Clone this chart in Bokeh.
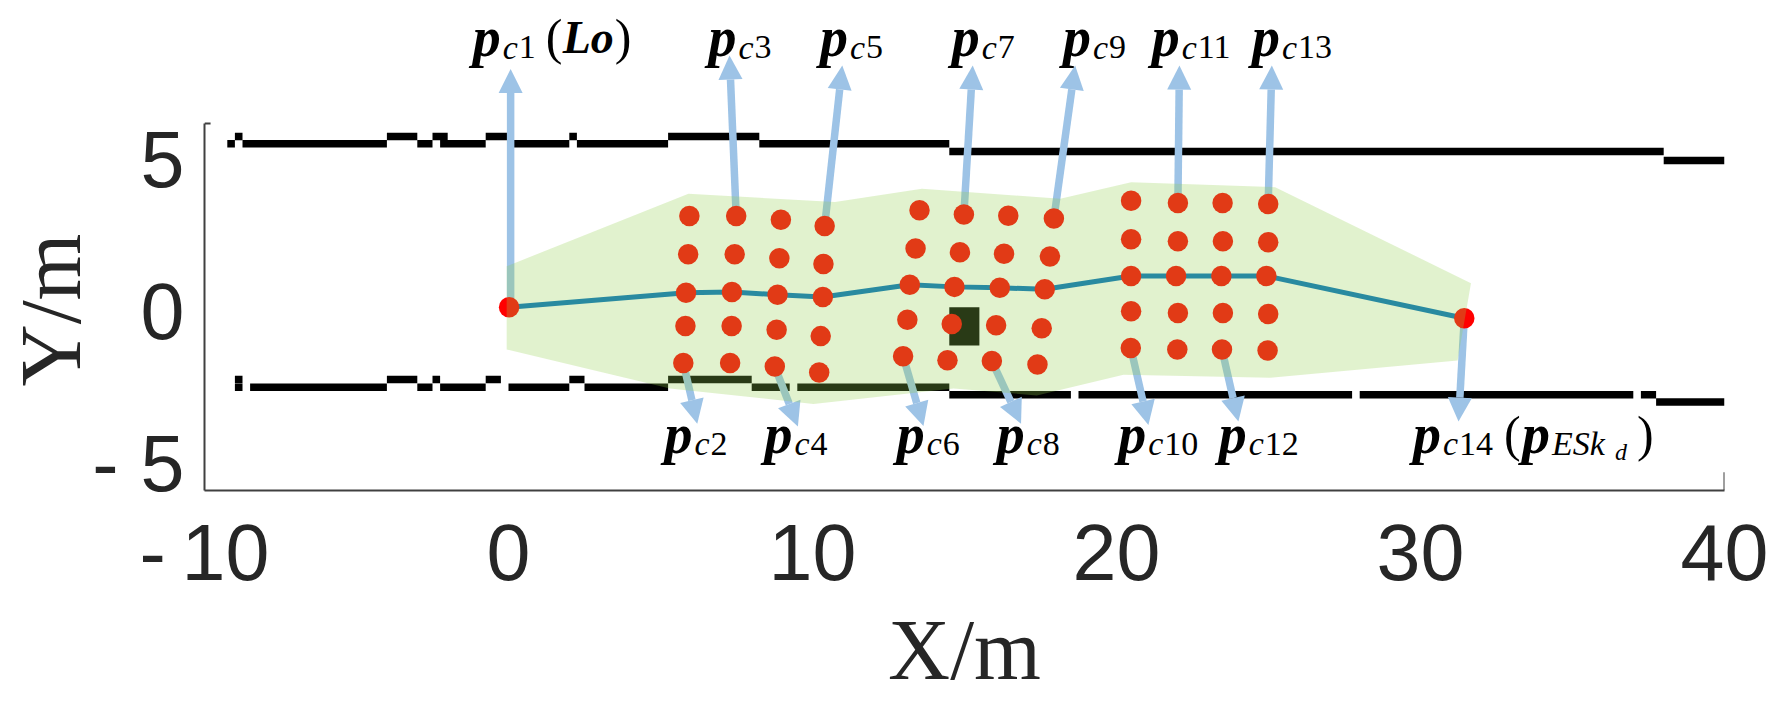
from bokeh.embed import file_html
from bokeh.models import Arrow, Label, NormalHead
from bokeh.plotting import figure
from bokeh.resources import INLINE

# road edges, one row per drawn piece
upper_x0 = [-9.25, -9, -8.75, -4, -3, -2.5, -2.25, -0.75, 0, 2, 2.25, 5.25, 8.25, 14.5, 38]
upper_x1 = [-9, -8.75, -4, -3, -2.5, -2, -0.75, 0, 2, 2.25, 5.25, 8.25, 14.5, 38, 40]
upper_y = [5.52, 5.76, 5.52, 5.76, 5.52, 5.76, 5.52, 5.76, 5.52, 5.76, 5.52, 5.76, 5.52, 5.26, 4.97]

lower_x0 = [-9, -9, -8.5, -4, -3, -2.5, -2.25, -0.75, 0, 2, 2.5, 5.25, 8, 9.5, 14.5, 18.75, 28, 37.25, 37.75]
lower_x1 = [-8.75, -8.75, -4, -3, -2.5, -2.25, -0.75, -0.25, 2, 2.5, 5.25, 8, 9.25, 14.5, 18.5, 27.75, 37, 37.75, 40]
lower_y = [-2.24, -2.49, -2.49, -2.24, -2.49, -2.24, -2.49, -2.24, -2.49, -2.24, -2.49, -2.24, -2.49, -2.49,
           -2.74, -2.74, -2.74, -2.74, -2.98]

# obstacle
obstacle_x = [14.5, 15.49]
obstacle_y = [-1.12, 0.14]

# feasible region
region_x = [-0.06, 5.92, 10.74, 13.6, 18.15, 20.48, 25.22, 31.66, 31.22, 25.06, 20.23, 17.38, 14.64, 10.03, 5.31, -0.06]
region_y = [1.49, 3.87, 3.6, 4.04, 3.71, 4.25, 4.09, 0.93, -1.61, -2.18, -2.08, -2.76, -2.53, -3.04, -2.53, -1.25]

# reference path
path_x = [0.02, 5.84, 7.35, 8.85, 10.34, 13.2, 14.67, 16.16, 17.64, 20.48, 21.96, 23.45, 24.93, 31.44]
path_y = [0.14, 0.62, 0.64, 0.55, 0.48, 0.88, 0.81, 0.78, 0.73, 1.17, 1.17, 1.17, 1.17, -0.22]

# sample points, five per column
dots_x = [
    5.95, 5.91, 5.84, 5.82, 5.75,
    7.49, 7.44, 7.35, 7.34, 7.29,
    8.96, 8.91, 8.85, 8.82, 8.76,
    10.40, 10.36, 10.34, 10.27, 10.22,
    13.52, 13.39, 13.20, 13.12, 12.98,
    14.98, 14.85, 14.67, 14.58, 14.44,
    16.44, 16.30, 16.16, 16.04, 15.90,
    17.94, 17.81, 17.64, 17.54, 17.40,
    20.48, 20.48, 20.48, 20.48, 20.47,
    22.02, 22.02, 21.96, 22.02, 22.00,
    23.49, 23.50, 23.45, 23.50, 23.47,
    24.99, 24.99, 24.93, 24.99, 24.97,
    0.02, 31.44,
]
dots_y = [
    3.14, 1.88, 0.62, -0.48, -1.69,
    3.14, 1.88, 0.64, -0.48, -1.69,
    3.02, 1.75, 0.55, -0.60, -1.81,
    2.81, 1.56, 0.48, -0.81, -2.01,
    3.33, 2.07, 0.88, -0.27, -1.47,
    3.19, 1.95, 0.81, -0.41, -1.60,
    3.15, 1.90, 0.78, -0.45, -1.63,
    3.06, 1.81, 0.73, -0.55, -1.74,
    3.64, 2.38, 1.17, 0.01, -1.20,
    3.57, 2.31, 1.17, -0.05, -1.25,
    3.57, 2.31, 1.17, -0.05, -1.25,
    3.54, 2.28, 1.17, -0.08, -1.28,
    0.14, -0.22,
]

# callout arrows, index 0 is p_c1
arrow_x0 = [0.07, 5.75, 7.49, 8.76, 10.40, 12.98, 14.98, 15.90, 17.94, 20.47, 22.02, 23.47, 24.99, 31.44]
arrow_y0 = [0.2, -1.69, 3.14, -1.81, 2.81, -1.47, 3.19, -1.63, 3.06, -1.20, 3.57, -1.25, 3.54, -0.22]
arrow_x1 = [0.07, 6.21, 7.27, 9.52, 10.98, 13.65, 15.27, 16.86, 18.64, 21.05, 22.07, 24.01, 25.11, 31.25]
arrow_y1 = [7.98, -3.69, 8.42, -3.78, 8.09, -3.77, 8.09, -3.69, 8.09, -3.73, 8.09, -3.62, 8.09, -3.62]

# callout names and where each one starts
tag_nums = ["1", "2", "3", "4", "5", "6", "7", "8", "9", "10", "11", "12", "13", "14"]
tag_x = [-1.18, 5.13, 6.58, 8.42, 10.25, 12.77, 14.58, 16.06, 18.24, 20.06, 21.16, 23.36, 24.46, 29.75]
tag_y = [9.02, -4.02, 9.02, -4.02, 9.02, -4.02, 9.02, -4.02, 9.02, -4.02, 9.02, -4.02, 9.02, -4.02]

x_ticks = [-10, 0, 10, 20, 30, 40]
y_ticks = [-5, 0, 5]

SERIF = "Liberation Serif"
BLUE = "#9DC3E6"
TEXT = "#262626"
AXIS = "#404040"
X_MIN, X_MAX = -10, 40
Y_MIN, Y_MAX = -5.888, 6.184
# the frame runs up to the top of the page so the upper callouts are not cut off
Y_TOP = 10.23

p = figure(width=1769, height=705, x_range=(X_MIN, X_MAX), y_range=(Y_MIN, Y_TOP),
           output_backend="svg", toolbar_location=None,
           min_border_left=204, min_border_right=45, min_border_top=0, min_border_bottom=215)
p.grid.visible = False
p.outline_line_color = None

p.xaxis.ticker = x_ticks
p.yaxis.ticker = y_ticks
p.yaxis.bounds = (Y_MIN, Y_MAX)
p.xaxis.major_label_overrides = {-10: "-\u200910"}
p.yaxis.major_label_overrides = {-5: "- 5"}
for ax in (p.xaxis[0], p.yaxis[0]):
    ax.axis_line_color = AXIS
    ax.axis_line_width = 2
    ax.major_tick_line_color = None
    ax.minor_tick_line_color = None
    ax.major_tick_in = 0
    ax.major_tick_out = 0
    ax.minor_tick_in = 0
    ax.minor_tick_out = 0
    ax.major_label_text_font = "Liberation Sans"
    ax.major_label_text_font_size = "79px"
    ax.major_label_text_color = TEXT
    ax.axis_label_text_font = SERIF
    ax.axis_label_text_font_style = "normal"
    ax.axis_label_text_font_size = "86px"
    ax.axis_label_text_color = TEXT
p.xaxis.axis_label = "X/m"
# trailing spaces pull the label down, it centres on the tall frame otherwise
p.yaxis.axis_label = "Y/m" + "\u00a0" * 6
p.xaxis.major_label_standoff = 17
p.xaxis.axis_label_standoff = 2
p.yaxis.major_label_standoff = 20
p.yaxis.major_label_orientation = "horizontal"
p.yaxis.axis_label_standoff = -10

# leftover ticks at the ends of the axes
p.segment([X_MIN, X_MAX], [Y_MAX, Y_MIN], [X_MIN + 0.2, X_MAX], [Y_MAX, Y_MIN + 0.6], line_color=AXIS, line_width=2)

p.segment(upper_x0, upper_y, upper_x1, upper_y, line_color="black", line_width=7.5, line_cap="butt")
p.segment(lower_x0, lower_y, lower_x1, lower_y, line_color="black", line_width=7.5, line_cap="butt")
p.quad(left=obstacle_x[0], right=obstacle_x[1], bottom=obstacle_y[0], top=obstacle_y[1], fill_color="black", line_color=None)

# arrows sit under the points, and the green region goes over all of it
for i in range(len(arrow_x0)):
    head = NormalHead(size=24, fill_color=BLUE, line_color=None)
    p.add_layout(Arrow(end=head, x_start=arrow_x0[i], y_start=arrow_y0[i], x_end=arrow_x1[i], y_end=arrow_y1[i],
                       line_color=BLUE, line_width=7.5, level="guide"))

p.line(path_x, path_y, line_color="#0070C0", line_width=5, level="annotation")
p.scatter(dots_x, dots_y, size=20.5, fill_color="#FF0000", line_color=None, level="annotation")
p.patch(region_x, region_y, fill_color="#92D050", fill_alpha=0.28, line_color=None, level="overlay")


def text_part(x, y, text, dx, dy, size, style="normal"):
    p.add_layout(Label(x=x, y=y, x_offset=dx, y_offset=dy, text=text, text_font=SERIF, text_font_size=size,
                       text_font_style=style, text_color="black", text_baseline="alphabetic"))


for i, num in enumerate(tag_nums):
    x, y = tag_x[i], tag_y[i]
    text_part(x, y, "p", 0, 0, "56px", "bold italic")
    text_part(x, y, "c", 30, -10, "34px", "italic")
    text_part(x, y, num, 46, -10, "34px")

# the two callouts that carry a second name
text_part(tag_x[0], tag_y[0], "(", 73, 0, "50px")
text_part(tag_x[0], tag_y[0], "Lo", 90, 0, "46px", "bold italic")
text_part(tag_x[0], tag_y[0], ")", 142, 0, "50px")
text_part(tag_x[13], tag_y[13], "(", 91, 0, "50px")
text_part(tag_x[13], tag_y[13], "p", 109, 0, "56px", "bold italic")
text_part(tag_x[13], tag_y[13], "ESk", 139, -10, "34px", "italic")
text_part(tag_x[13], tag_y[13], "d", 202, -18, "24px", "italic")
text_part(tag_x[13], tag_y[13], ")", 224, 0, "50px")

open("out.html", "w").write(file_html(p, INLINE))
